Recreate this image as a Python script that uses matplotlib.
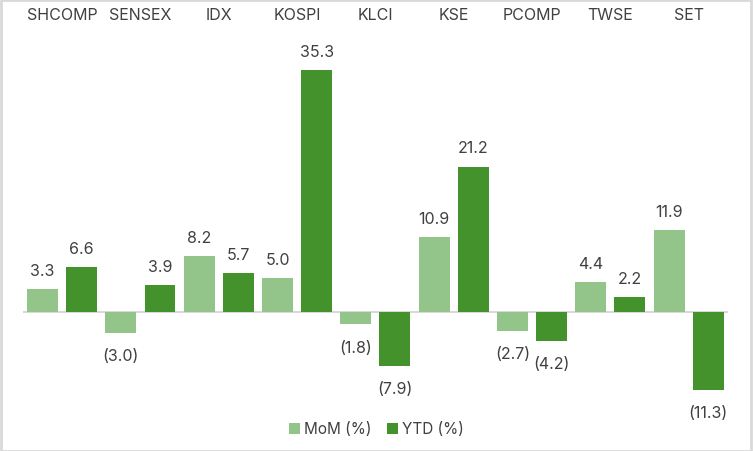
import numpy as np
import matplotlib.pyplot as plt
import matplotlib.transforms as mtransforms
from matplotlib.patches import Rectangle

categories = ["SHCOMP", "SENSEX", "IDX", "KOSPI", "KLCI", "KSE", "PCOMP", "TWSE", "SET"]
mom = [3.3, -3.0, 8.2, 5.0, -1.8, 10.9, -2.7, 4.4, 11.9]
ytd = [6.6, 3.9, 5.7, 35.3, -7.9, 21.2, -4.2, 2.2, -11.3]

c_mom = "#93c48a"
c_ytd = "#43922b"
txt = "#404040"


def fmt(v):
    return "({:.1f})".format(abs(v)) if v < 0 else "{:.1f}".format(v)


if __name__ == "__main__":
    plt.rcParams['font.family'] = ['Inter', 'DejaVu Sans']
    fig = plt.figure(figsize=(7.53, 4.52), dpi=100)
    ax = fig.add_axes([0.0305, 0.095, 0.936, 0.759])

    x = np.arange(len(categories))
    w = 0.395
    b1 = ax.bar(x - 0.25, mom, w, color=c_mom, label="MoM (%)", zorder=2)
    b2 = ax.bar(x + 0.25, ytd, w, color=c_ytd, label="YTD (%)", zorder=2)

    for bars, vals in [(b1, mom), (b2, ytd)]:
        for r, v in zip(bars, vals):
            cx = r.get_x() + r.get_width() / 2
            off = 8 if v >= 0 else -11
            ax.annotate(fmt(v), (cx, v), xytext=(0, off), textcoords="offset points",
                        ha="center", va="bottom" if v >= 0 else "top",
                        fontsize=11.5, color=txt, annotation_clip=False)

    ax.axhline(0, color="#d9d9d9", linewidth=1.5, zorder=1)
    ax.set_xlim(-0.5, len(categories) - 0.5)
    ax.set_ylim(-14, 36)
    ax.axis("off")

    trans = mtransforms.blended_transform_factory(ax.transData, fig.transFigure)
    for xi, c in zip(x, categories):
        ax.text(xi, 1 - 15 / 452, c, transform=trans, ha="center", va="center",
                fontsize=11.5, color=txt)

    fig.legend(handles=[b1, b2], loc="center", bbox_to_anchor=(0.5, 1 - 430 / 452),
               ncol=2, frameon=False, fontsize=11, labelcolor=txt,
               handlelength=0.7, handleheight=0.7, handletextpad=0.3, columnspacing=1.0)

    fig.patches.append(Rectangle((0.001, 0.001), 0.997, 0.997, transform=fig.transFigure,
                                 fill=False, edgecolor="#d9d9d9", linewidth=2))

    plt.savefig("out.png", dpi=100)
